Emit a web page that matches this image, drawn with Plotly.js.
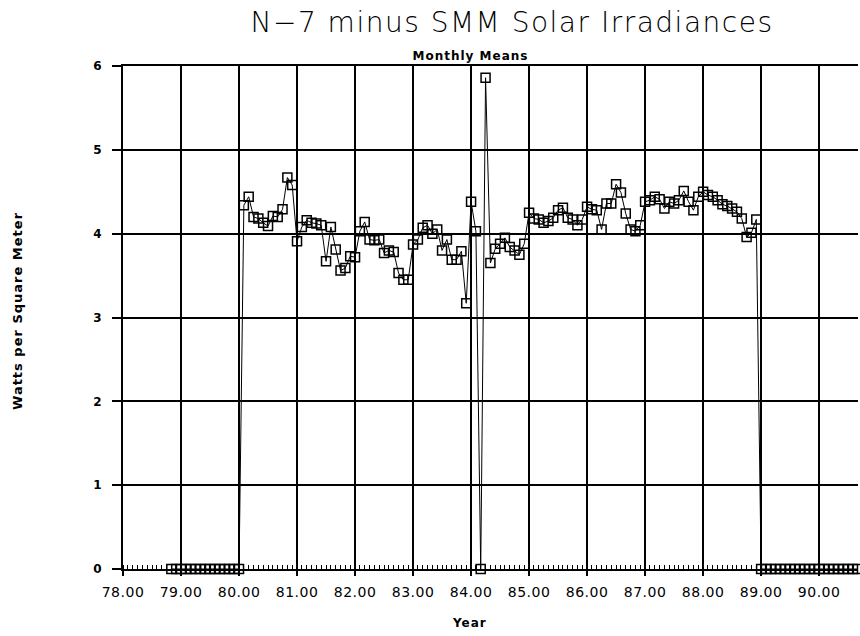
<!DOCTYPE html>
<html>
<head>
<meta charset="utf-8">
<script src="https://cdn.plot.ly/plotly-3.0.1.min.js"></script>
<style>
html, body { margin: 0; padding: 0; background: #ffffff; }
#chart { width: 860px; height: 636px; }
#chart .gtitle { letter-spacing: 1.5px; }
#chart .annotation-text { letter-spacing: 1px; }
#chart .xtick text { letter-spacing: 0.5px; }
</style>
</head>
<body>
<div id="chart"></div>
<script>
// Monthly means of N-7 minus SMM solar irradiance (W/m^2), Jan..Dec per year.
// null = outside the plotted record; 0 = months without SMM data.
const y1978 = [null, null, null, null, null, null, null, null, null, null, 0, 0];
const y1979 = [0, 0, 0, 0, 0, 0, 0, 0, 0, 0, 0, 0];
const y1980 = [0, 4.34, 4.44, 4.20, 4.18, 4.13, 4.09, 4.21, 4.20, 4.29, 4.67, 4.58];
const y1981 = [3.91, 4.08, 4.16, 4.13, 4.12, 4.10, 3.67, 4.08, 3.81, 3.56, 3.59, 3.73];
const y1982 = [3.72, 4.03, 4.14, 3.93, 3.92, 3.93, 3.77, 3.80, 3.78, 3.53, 3.45, 3.45];
const y1983 = [3.87, 3.93, 4.07, 4.10, 4.00, 4.05, 3.80, 3.93, 3.69, 3.69, 3.79, 3.17];
const y1984 = [4.38, 4.03, 0, 5.86, 3.65, 3.82, 3.88, 3.95, 3.84, 3.80, 3.75, 3.88];
const y1985 = [4.25, 4.18, 4.17, 4.13, 4.15, 4.19, 4.28, 4.31, 4.19, 4.17, 4.10, 4.17];
const y1986 = [4.32, 4.29, 4.28, 4.05, 4.36, 4.36, 4.59, 4.49, 4.24, 4.05, 4.03, 4.10];
const y1987 = [4.38, 4.40, 4.44, 4.41, 4.30, 4.38, 4.36, 4.40, 4.51, 4.38, 4.28, 4.44];
const y1988 = [4.50, 4.46, 4.44, 4.40, 4.35, 4.33, 4.30, 4.26, 4.18, 3.96, 4.01, 4.17];
const y1989 = [0, 0, 0, 0, 0, 0, 0, 0, 0, 0, 0, 0];
const y1990 = [0, 0, 0, 0, 0, 0, 0, 0, 0, null, null, null];

const yearNumbers = [78, 79, 80, 81, 82, 83, 84, 85, 86, 87, 88, 89, 90];
const yearValues = [y1978, y1979, y1980, y1981, y1982, y1983, y1984, y1985, y1986, y1987, y1988, y1989, y1990];

const yTickValues = [0, 1, 2, 3, 4, 5, 6];
const xTickValues = [78, 79, 80, 81, 82, 83, 84, 85, 86, 87, 88, 89, 90];

const titleText = "N\u22127 minus SMM Solar Irradiances";
const subtitleText = "Monthly Means";
const xTitleText = "Year";
const yTitleText = "Watts per Square Meter";

// Build decimal-year x positions (year + (month-1)/12)
const xs = [];
const ys = [];
yearNumbers.forEach(function (yr, i) {
  yearValues[i].forEach(function (v, m) {
    if (v !== null) {
      xs.push(yr + m / 12);
      ys.push(v);
    }
  });
});

const trace = {
  x: xs,
  y: ys,
  type: 'scatter',
  mode: 'lines+markers',
  line: { color: '#000000', width: 1 },
  marker: { symbol: 'square-open', size: 9, color: '#000000', line: { width: 1.5, color: '#000000' } },
  cliponaxis: false,
  hoverinfo: 'x+y'
};

const W = 860, H = 636;
const L = 123, R = 2, T = 66, B = 67;
const pw = W - L - R, ph = H - T - B;
function px2paperX(p) { return (p - L) / pw; }
function px2paperY(p) { return (H - B - p) / ph; }

const layout = {
  width: W,
  height: H,
  margin: { l: L, r: R, t: T, b: B, pad: 0 },
  paper_bgcolor: '#ffffff',
  plot_bgcolor: '#ffffff',
  showlegend: false,
  font: { family: 'DejaVu Sans, sans-serif', color: '#000000' },
  title: {
    text: titleText,
    x: 512 / W,
    xanchor: 'center',
    y: 1 - 22 / H,
    yanchor: 'middle',
    font: { family: 'DejaVu Sans, sans-serif', size: 28, color: '#000000', weight: 300 }
  },
  xaxis: {
    range: [78, 90.67],
    tickmode: 'array',
    tickvals: xTickValues,
    tickformat: '.2f',
    showgrid: true,
    gridcolor: '#000000',
    gridwidth: 2,
    zeroline: false,
    showline: true,
    linecolor: '#000000',
    linewidth: 2,
    mirror: true,
    ticks: 'outside',
    ticklen: 5,
    tickwidth: 2,
    tickcolor: '#000000',
    ticklabelstandoff: 4,
    tickfont: { family: 'DejaVu Sans, sans-serif', size: 14, color: '#000000' },
    minor: { dtick: 1 / 12, tick0: 78, ticks: 'inside', ticklen: 4, tickwidth: 1, tickcolor: '#000000', showgrid: false },
    fixedrange: true
  },
  yaxis: {
    range: [0, 6],
    tickmode: 'array',
    tickvals: yTickValues,
    showgrid: true,
    gridcolor: '#000000',
    gridwidth: 2,
    zeroline: false,
    showline: true,
    linecolor: '#000000',
    linewidth: 2,
    mirror: false,
    ticks: 'outside',
    ticklen: 9,
    tickwidth: 2,
    tickcolor: '#000000',
    ticklabelstandoff: 8,
    tickfont: { family: 'DejaVu Sans, sans-serif', size: 12, color: '#000000', weight: 'bold' },
    fixedrange: true
  },
  annotations: [
    {
      text: subtitleText,
      xref: 'paper', yref: 'paper',
      x: px2paperX(470), y: px2paperY(56),
      xanchor: 'center', yanchor: 'middle',
      showarrow: false,
      font: { family: 'DejaVu Sans, sans-serif', size: 12, color: '#000000', weight: 'bold' }
    },
    {
      text: xTitleText,
      xref: 'paper', yref: 'paper',
      x: px2paperX(469), y: px2paperY(623),
      xanchor: 'center', yanchor: 'middle',
      showarrow: false,
      font: { family: 'DejaVu Sans, sans-serif', size: 12, color: '#000000', weight: 'bold' }
    },
    {
      text: yTitleText,
      xref: 'paper', yref: 'paper',
      x: px2paperX(17), y: px2paperY(311),
      xanchor: 'center', yanchor: 'middle',
      textangle: -90,
      showarrow: false,
      font: { family: 'DejaVu Sans, sans-serif', size: 13, color: '#000000', weight: 'bold' }
    }
  ]
};

Plotly.newPlot('chart', [trace], layout, { displayModeBar: false, staticPlot: true });
</script>
</body>
</html>
